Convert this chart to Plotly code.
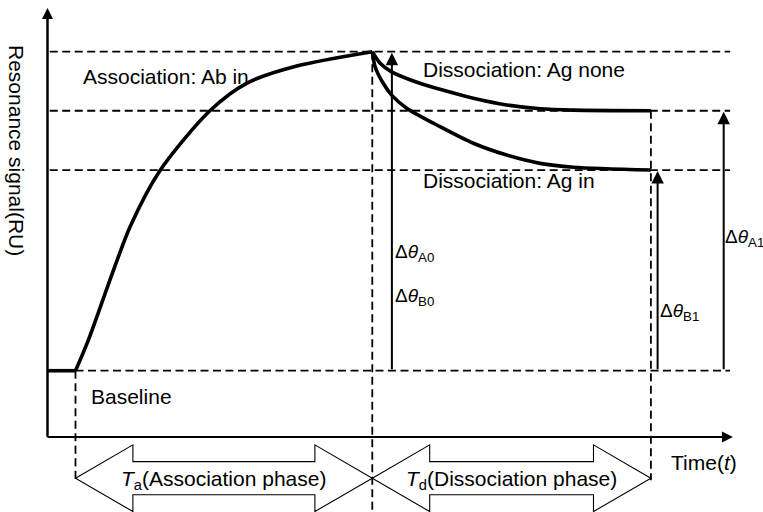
import plotly.graph_objects as go

# ---------------- data ----------------
# time units (arbitrary), signal units (RU, arbitrary)
T_START = 10.0      # start of association
T_PEAK = 116.0      # end of association / start of dissociation
T_END = 215.5       # end of dissociation
BASE = 20.0         # baseline signal
PEAK = 120.0        # signal at end of association
LEVEL_A1 = 101.5    # plateau, dissociation with no Ag
LEVEL_B1 = 82.9     # plateau, dissociation with Ag in

assoc_t = [10.0, 14.6, 29.5, 40.2, 58.0, 71.1, 89.0, 116.0]
assoc_r = [20.0, 29.6, 65.1, 82.8, 101.5, 110.1, 115.5, 120.0]

diss_none_t = [116.0, 118.8, 122.9, 133.0, 140.2, 152.1, 164.0, 175.9, 187.8, 215.5]
diss_none_r = [120.0, 116.4, 113.7, 110.1, 108.2, 105.4, 103.3, 102.1, 101.7, 101.5]

diss_in_t = [116.0, 117.0, 119.9, 122.9, 128.3, 140.2, 152.1, 164.0, 175.9, 187.8, 215.5]
diss_in_r = [120.0, 115.3, 110.1, 106.4, 102.3, 96.5, 91.3, 87.6, 85.0, 83.8, 82.9]

# ---------------- layout constants ----------------
X_RANGE = [-16.96, 255.54]
Y_RANGE = [-24.29, 136.21]
AXIS_R = -0.8
Y_TOP = 133.7
X_END = 244.8
DASH_END = 243.8
DROP_R = -14.3
ARROW_C = -13.7
HEAD_L = 20.5
HEAD_H = 10.45
SHAFT_H = 5.2

FONT = "Liberation Sans, Arial, sans-serif"
FS = 21
FS_DELTA = 19
BLACK = "#000000"

fig = go.Figure()

curve = dict(color=BLACK, width=3.6)
fig.add_trace(go.Scatter(x=[0, T_START], y=[BASE, BASE], mode="lines",
                         line=curve, hoverinfo="skip"))
fig.add_trace(go.Scatter(x=assoc_t, y=assoc_r, mode="lines",
                         line=dict(curve, shape="spline", smoothing=0.8), hoverinfo="skip"))
fig.add_trace(go.Scatter(x=diss_none_t, y=diss_none_r, mode="lines",
                         line=dict(curve, shape="spline", smoothing=0.8), hoverinfo="skip"))
fig.add_trace(go.Scatter(x=diss_in_t, y=diss_in_r, mode="lines",
                         line=dict(curve, shape="spline", smoothing=0.8), hoverinfo="skip"))

shapes = []
dash = dict(color=BLACK, width=1.8, dash="8px,4.5px")
for lvl in (PEAK, LEVEL_A1, LEVEL_B1):
    shapes.append(dict(type="line", xref="x", yref="y", x0=0.8, x1=DASH_END,
                       y0=lvl, y1=lvl, line=dash, layer="below"))
shapes.append(dict(type="line", xref="x", yref="y", x0=T_START, x1=DASH_END,
                   y0=BASE, y1=BASE, line=dash, layer="below"))
shapes.append(dict(type="line", xref="x", yref="y", x0=T_START, x1=T_START,
                   y0=BASE, y1=DROP_R, line=dash, layer="below"))
shapes.append(dict(type="line", xref="x", yref="y", x0=T_PEAK, x1=T_PEAK,
                   y0=PEAK, y1=Y_RANGE[0], line=dash, layer="below"))
shapes.append(dict(type="line", xref="x", yref="y", x0=T_END, x1=T_END,
                   y0=LEVEL_A1, y1=DROP_R, line=dash, layer="below"))


def block_arrow(a, b):
    c = ARROW_C
    pts = [(a, c), (a + HEAD_L, c + HEAD_H), (a + HEAD_L, c + SHAFT_H),
           (b - HEAD_L, c + SHAFT_H), (b - HEAD_L, c + HEAD_H), (b, c),
           (b - HEAD_L, c - HEAD_H), (b - HEAD_L, c - SHAFT_H),
           (a + HEAD_L, c - SHAFT_H), (a + HEAD_L, c - HEAD_H)]
    path = "M " + " L ".join(f"{x},{y}" for x, y in pts) + " Z"
    return dict(type="path", xref="x", yref="y", path=path,
                line=dict(color=BLACK, width=1.1), fillcolor="rgba(0,0,0,0)")


shapes.append(block_arrow(T_START, T_PEAK))
shapes.append(block_arrow(T_PEAK, T_END))

# axis lines
shapes.append(dict(type="line", xref="x", yref="y", x0=0, x1=X_END - 2,
                   y0=AXIS_R, y1=AXIS_R, line=dict(color=BLACK, width=2)))
shapes.append(dict(type="line", xref="x", yref="y", x0=0, x1=0,
                   y0=AXIS_R, y1=Y_TOP - 3, line=dict(color=BLACK, width=2)))

annotations = []


def arrow(x, y, ax, ay, width=2, size=1.2):
    annotations.append(dict(x=x, y=y, ax=ax, ay=ay, xref="x", yref="y",
                            axref="x", ayref="y", text="", showarrow=True,
                            arrowhead=2, arrowsize=size, arrowwidth=width,
                            arrowcolor=BLACK, standoff=0, startstandoff=0))


arrow(0, Y_TOP, 0, AXIS_R, width=2, size=1.1)
arrow(X_END, AXIS_R, 0, AXIS_R, width=2, size=1.1)
arrow(T_PEAK + 7, PEAK - 0.3, T_PEAK + 7, BASE, width=2, size=1.25)
arrow(T_END + 2.4, LEVEL_B1 - 0.3, T_END + 2.4, BASE, width=2, size=1.25)
arrow(T_END + 26, LEVEL_A1 - 0.3, T_END + 26, BASE, width=2, size=1.25)


def label(x, y, text, xanchor="left", size=FS, **kw):
    annotations.append(dict(x=x, y=y, xref="x", yref="y", text=text,
                            showarrow=False, xanchor=xanchor, yanchor="middle",
                            font=dict(family=FONT, size=size, color=BLACK), **kw))


label(12.0, 112.2, "Association: Ab in")
label(133.4, 114.5, "Dissociation: Ag none")
label(133.4, 79.6, "Dissociation: Ag in")
label(15.0, 11.9, "Baseline")
label(123.4, 56.9, "Δ<i>θ</i><sub>A0</sub>", size=FS_DELTA)
label(123.4, 43.0, "Δ<i>θ</i><sub>B0</sub>", size=FS_DELTA)
label(218.0, 38.3, "Δ<i>θ</i><sub>B1</sub>", size=FS_DELTA)
label(241.3, 61.5, "Δ<i>θ</i><sub>A1</sub>", size=FS_DELTA)
label(222.0, -8.9, "Time(<i>t</i>)")
label((T_START + T_PEAK) / 2, ARROW_C - 0.6, "<i>T</i><sub>a</sub>(Association phase)",
      xanchor="center")
label((T_PEAK + T_END) / 2, ARROW_C - 0.6, "<i>T</i><sub>d</sub>(Dissociation phase)",
      xanchor="center")

annotations.append(dict(x=17 / 763, y=1 - 150 / 512, xref="paper", yref="paper",
                        text="Resonance signal(RU)", showarrow=False, textangle=90,
                        xanchor="center", yanchor="middle",
                        font=dict(family=FONT, size=FS, color=BLACK)))

fig.update_layout(
    width=763, height=512,
    margin=dict(l=0, r=0, t=0, b=0),
    paper_bgcolor="white", plot_bgcolor="white",
    showlegend=False,
    xaxis=dict(range=X_RANGE, visible=False, fixedrange=True),
    yaxis=dict(range=Y_RANGE, visible=False, fixedrange=True),
    shapes=shapes, annotations=annotations,
)

fig.write_html("out.html", config={"displayModeBar": False},
               post_script="document.body.style.margin='0px';"
                           "document.body.style.overflow='hidden';")
